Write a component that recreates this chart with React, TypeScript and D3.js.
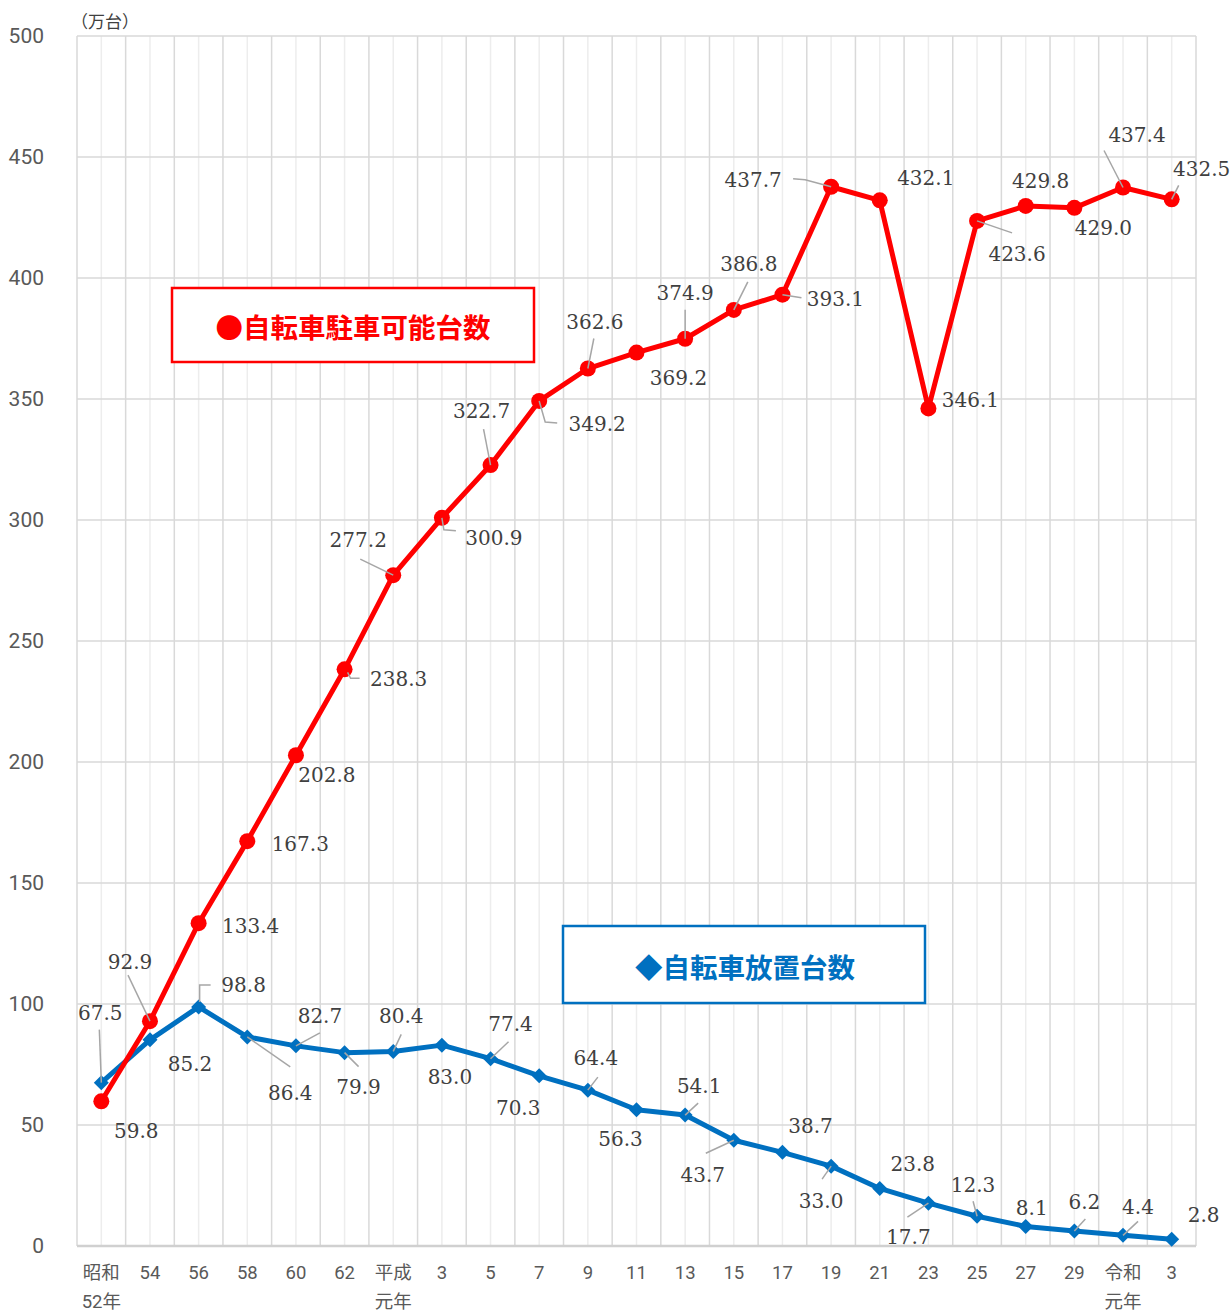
import React from 'react';
import * as d3 from 'd3';

const categories = ['昭和|52年', '54', '56', '58', '60', '62', '平成|元年', '3', '5', '7', '9', '11', '13', '15', '17', '19', '21', '23', '25', '27', '29', '令和|元年', '3'];
const parkingCapacity = [59.8, 92.9, 133.4, 167.3, 202.8, 238.3, 277.2, 300.9, 322.7, 349.2, 362.6, 369.2, 374.9, 386.8, 393.1, 437.7, 432.1, 346.1, 423.6, 429.8, 429.0, 437.4, 432.5];
const abandonedBikes = [67.5, 85.2, 98.8, 86.4, 82.7, 79.9, 80.4, 83.0, 77.4, 70.3, 64.4, 56.3, 54.1, 43.7, 38.7, 33.0, 23.8, 17.7, 12.3, 8.1, 6.2, 4.4, 2.8];
const yTicks = [0, 50, 100, 150, 200, 250, 300, 350, 400, 450, 500];
const seriesNames = ['●自転車駐車可能台数', '◆自転車放置台数'];
const unitLabel = '（万台）';

// label placement (offset of label centre from its point) and leader polylines
const redLabelOffsets: [number, number][] = [
  [35, 30], [-20, -59], [52, 3], [53, 3], [31, 20], [54, 10], [-35, -35], [52, 20], [-9, -54], [58, 23],
  [7, -47], [42, 25], [0, -46], [15, -46], [53, 4], [-78, -7], [46, -22], [42, -8], [40, 33], [15, -25],
  [29, 20], [14, -52], [30, -30],
];
const redLeaders: ([number, number][] | null)[] = [
  null, [[0, 0], [-22, -46]], null, null, null, [[3, 3], [6, 9], [15, 9]], [[0, 0], [-33, -16]], [[0, 0], [2, 12], [14, 13]],
  [[0, 0], [-7, -36]], [[0, 0], [6, 21], [18, 22]], [[0, 0], [6, -30]], null, [[0, 0], [0, -29]], [[0, 0], [14, -28]],
  [[0, 0], [19, 3]], [[0, 0], [-26, -7], [-38, -8]], null, null, [[0, 0], [35, 12]], null, null, [[0, 0], [-19, -37]],
  [[0, 0], [7, -14]],
];
const blueLabelOffsets: [number, number][] = [
  [-1, -70], [40, 24], [45, -22], [43, 56], [24, -30], [14, 34], [8, -35], [8, 32], [20, -35], [-21, 32],
  [8, -32], [-16, 29], [14, -29], [-31, 35], [28, -26], [-10, 35], [33, -24], [-20, 34], [-4, -31], [6, -18],
  [10, -29], [15, -28], [32, -24],
];
const blueLeaders: ([number, number][] | null)[] = [
  [[0, 0], [-2, -53]], null, [[1, -5], [1, -22], [12, -22]], [[0, 0], [43, 30]], [[0, 0], [24, -13]], [[0, 0], [14, 14]],
  [[0, 0], [8, -17]], null, [[0, 0], [18, -17]], null, [[0, 0], [10, -13]], null, [[0, 0], [13, -12]],
  [[0, 0], [-28, 13]], null, [[0, 0], [-9, 13]], null, [[0, 0], [-21, 14]], [[0, 0], [-4, -15]], null,
  [[0, 0], [11, -12]], [[0, 0], [15, -14]], null,
];

const W = 1231;
const H = 1316;
const plot = { left: 77, right: 1196, top: 36, bottom: 1246 };
const RED = '#FF0000';
const BLUE = '#0070C0';
const labelFont = "'DejaVu Serif', 'Liberation Serif', serif";
const tickFont = "Roboto, 'Noto Sans CJK JP', sans-serif";
const cjkFont = "'Noto Sans CJK JP', sans-serif";

export default function App() {
  const idx = d3.range(categories.length);
  const x = d3.scaleBand<number>().domain(idx).range([plot.left, plot.right]);
  const cx = (i: number) => (x(i) as number) + x.bandwidth() / 2;
  const y = d3.scaleLinear().domain([0, 500]).range([plot.bottom, plot.top]);
  const line = d3.line<number>().x((_, i) => cx(i)).y((d) => y(d));
  const leaderLine = d3.line<[number, number]>();

  const boundaries = idx.map((i) => x(i) as number).concat([plot.right]);

  const renderLabels = (vals: number[], offsets: [number, number][], leaders: ([number, number][] | null)[]) =>
    vals.map((v, i) => {
      const px = cx(i);
      const py = y(v);
      const lead = leaders[i];
      return (
        <g key={i}>
          {lead && (
            <path
              d={leaderLine(lead.map(([dx, dy]) => [px + dx, py + dy] as [number, number])) as string}
              fill="none"
              stroke="#a6a6a6"
              strokeWidth={1.5}
            />
          )}
          <text
            x={px + offsets[i][0]}
            y={py + offsets[i][1]}
            textAnchor="middle"
            dominantBaseline="central"
            fontFamily={labelFont}
            fontSize={20}
            fill="#404040"
          >
            {v.toFixed(1)}
          </text>
        </g>
      );
    });

  return (
    <svg width={W} height={H} style={{ position: 'absolute', left: 0, top: 0, background: '#fff' }}>
      <rect x={0} y={0} width={W} height={H} fill="#fff" />
      {/* vertical grid: centres (light) */}
      {idx.map((i) => (
        <line key={'c' + i} x1={cx(i)} x2={cx(i)} y1={plot.top} y2={plot.bottom} stroke="#ededed" strokeWidth={1.5} />
      ))}
      {/* vertical grid: boundaries */}
      {boundaries.map((bx, i) => (
        <line key={'b' + i} x1={bx} x2={bx} y1={plot.top} y2={plot.bottom} stroke="#d9d9d9" strokeWidth={1.5} />
      ))}
      {/* horizontal grid */}
      {yTicks.map((t) => (
        <line key={'h' + t} x1={plot.left} x2={plot.right} y1={y(t)} y2={y(t)} stroke="#d9d9d9" strokeWidth={1.5} />
      ))}
      <line x1={plot.left} x2={plot.right} y1={plot.bottom} y2={plot.bottom} stroke="#d0d0d0" strokeWidth={2.5} />

      {/* y tick labels */}
      {yTicks.map((t) => (
        <text key={'yt' + t} x={44} y={y(t)} textAnchor="end" dominantBaseline="central" fontFamily={tickFont} fontSize={21} fill="#595959">
          {t}
        </text>
      ))}
      <text x={71} y={20} dominantBaseline="central" fontFamily={cjkFont} fontSize={17} fill="#404040">
        {unitLabel}
      </text>

      {/* x tick labels */}
      {categories.map((c, i) => (
        <text key={'xt' + i} textAnchor="middle" fontFamily={tickFont} fontSize={18.5} fill="#595959">
          {c.split('|').map((ln, k) => (
            <tspan key={k} x={cx(i)} y={1279 + k * 29}>
              {ln}
            </tspan>
          ))}
        </text>
      ))}

      {/* blue series */}
      <path d={line(abandonedBikes) as string} fill="none" stroke={BLUE} strokeWidth={5} strokeLinejoin="round" />
      {abandonedBikes.map((v, i) => (
        <path key={'bd' + i} transform={`translate(${cx(i)},${y(v)})`} d="M0,-7.5L7.5,0L0,7.5L-7.5,0Z" fill={BLUE} />
      ))}

      {/* red series */}
      <path d={line(parkingCapacity) as string} fill="none" stroke={RED} strokeWidth={5} strokeLinejoin="round" />
      {parkingCapacity.map((v, i) => (
        <circle key={'rc' + i} cx={cx(i)} cy={y(v)} r={8} fill={RED} />
      ))}

      {renderLabels(abandonedBikes, blueLabelOffsets, blueLeaders)}
      {renderLabels(parkingCapacity, redLabelOffsets, redLeaders)}

      {/* legend boxes */}
      <rect x={172} y={288} width={362} height={74} fill="#fff" stroke={RED} strokeWidth={2.5} />
      <text x={353} y={326} textAnchor="middle" dominantBaseline="central" fontFamily={cjkFont} fontWeight={700} fontSize={27.5} fill={RED}>
        {seriesNames[0]}
      </text>
      <rect x={563} y={926} width={362} height={77} fill="#fff" stroke={BLUE} strokeWidth={2.5} />
      <text x={745} y={966} textAnchor="middle" dominantBaseline="central" fontFamily={cjkFont} fontWeight={700} fontSize={27.5} fill={BLUE}>
        {seriesNames[1]}
      </text>
    </svg>
  );
}
